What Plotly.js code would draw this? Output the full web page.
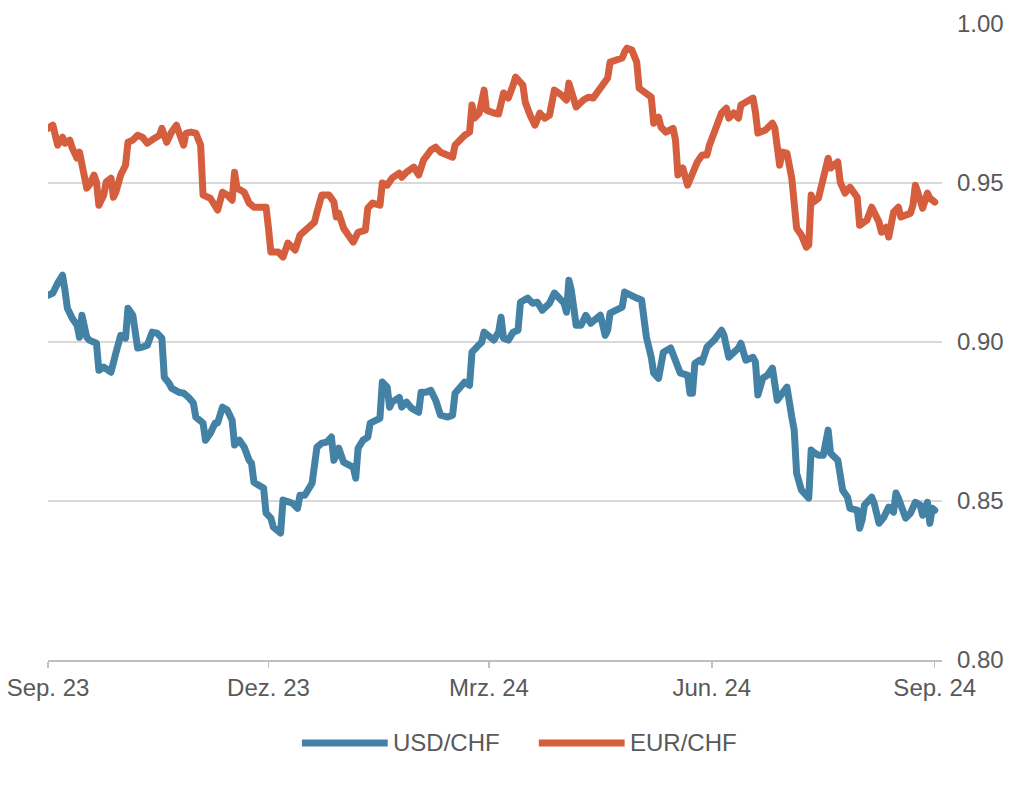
<!DOCTYPE html>
<html>
<head>
<meta charset="utf-8">
<script src="https://cdn.plot.ly/plotly-3.0.1.min.js"></script>
<style>
  html, body { margin: 0; padding: 0; background: #ffffff; }
  #chart { width: 1024px; height: 794px; }
  .js-line { stroke-linejoin: round !important; stroke-linecap: round !important; }
</style>
</head>
<body>
<div id="chart"></div>
<script>
// ---- Data ----
const seriesNames = ["USD/CHF", "EUR/CHF"];
const seriesColors = ["#4381A5", "#D45E3E"];

const usdDates = ["2023-09-01","2023-09-03","2023-09-05","2023-09-07","2023-09-08","2023-09-09","2023-09-11","2023-09-13","2023-09-14","2023-09-15","2023-09-17","2023-09-18","2023-09-21","2023-09-22","2023-09-24","2023-09-27","2023-09-29","2023-09-30","2023-10-01","2023-10-03","2023-10-04","2023-10-06","2023-10-08","2023-10-10","2023-10-12","2023-10-14","2023-10-16","2023-10-18","2023-10-19","2023-10-21","2023-10-22","2023-10-25","2023-10-27","2023-10-29","2023-10-31","2023-11-01","2023-11-03","2023-11-04","2023-11-05","2023-11-07","2023-11-09","2023-11-10","2023-11-12","2023-11-14","2023-11-16","2023-11-17","2023-11-19","2023-11-21","2023-11-23","2023-11-24","2023-11-25","2023-11-27","2023-11-29","2023-11-30","2023-12-02","2023-12-03","2023-12-05","2023-12-06","2023-12-07","2023-12-09","2023-12-11","2023-12-13","2023-12-14","2023-12-16","2023-12-18","2023-12-19","2023-12-21","2023-12-23","2023-12-25","2023-12-27","2023-12-28","2023-12-30","2024-01-01","2024-01-03","2024-01-05","2024-01-06","2024-01-07","2024-01-09","2024-01-11","2024-01-12","2024-01-13","2024-01-16","2024-01-17","2024-01-19","2024-01-20","2024-01-21","2024-01-24","2024-01-25","2024-01-27","2024-01-29","2024-02-01","2024-02-02","2024-02-04","2024-02-06","2024-02-08","2024-02-10","2024-02-13","2024-02-15","2024-02-16","2024-02-18","2024-02-20","2024-02-22","2024-02-23","2024-02-25","2024-02-27","2024-02-28","2024-03-01","2024-03-03","2024-03-05","2024-03-06","2024-03-07","2024-03-09","2024-03-11","2024-03-13","2024-03-14","2024-03-17","2024-03-19","2024-03-21","2024-03-23","2024-03-24","2024-03-26","2024-03-28","2024-03-30","2024-04-01","2024-04-02","2024-04-03","2024-04-04","2024-04-06","2024-04-08","2024-04-10","2024-04-12","2024-04-14","2024-04-16","2024-04-18","2024-04-19","2024-04-20","2024-04-23","2024-04-25","2024-04-26","2024-04-28","2024-05-01","2024-05-03","2024-05-04","2024-05-05","2024-05-07","2024-05-08","2024-05-10","2024-05-12","2024-05-15","2024-05-16","2024-05-17","2024-05-19","2024-05-22","2024-05-23","2024-05-24","2024-05-25","2024-05-27","2024-05-28","2024-05-30","2024-06-02","2024-06-05","2024-06-06","2024-06-08","2024-06-10","2024-06-12","2024-06-13","2024-06-15","2024-06-18","2024-06-19","2024-06-20","2024-06-22","2024-06-24","2024-06-26","2024-06-28","2024-06-30","2024-07-02","2024-07-04","2024-07-05","2024-07-06","2024-07-08","2024-07-11","2024-07-12","2024-07-13","2024-07-15","2024-07-17","2024-07-19","2024-07-20","2024-07-23","2024-07-25","2024-07-27","2024-07-28","2024-07-31","2024-08-01","2024-08-02","2024-08-03","2024-08-06","2024-08-07","2024-08-09","2024-08-11","2024-08-13","2024-08-15","2024-08-16","2024-08-17","2024-08-19","2024-08-20","2024-08-22","2024-08-24","2024-08-26","2024-08-27","2024-08-29","2024-08-30","2024-08-31","2024-09-01"];
const usdValues = [0.9147,0.9154,0.9185,0.9210,0.9163,0.9106,0.9075,0.9053,0.9015,0.9084,0.9015,0.9006,0.8996,0.8911,0.8921,0.8905,0.8965,0.9006,0.9021,0.9012,0.9106,0.9084,0.8981,0.8984,0.8990,0.9031,0.9028,0.9012,0.8889,0.8870,0.8855,0.8842,0.8839,0.8826,0.8808,0.8764,0.8754,0.8745,0.8691,0.8713,0.8745,0.8745,0.8795,0.8786,0.8754,0.8676,0.8691,0.8669,0.8628,0.8619,0.8559,0.8550,0.8540,0.8462,0.8446,0.8418,0.8402,0.8399,0.8503,0.8496,0.8493,0.8477,0.8518,0.8518,0.8543,0.8556,0.8669,0.8682,0.8685,0.8701,0.8628,0.8666,0.8622,0.8613,0.8606,0.8572,0.8666,0.8691,0.8701,0.8745,0.8748,0.8760,0.8874,0.8858,0.8795,0.8811,0.8826,0.8795,0.8811,0.8792,0.8779,0.8842,0.8842,0.8848,0.8817,0.8770,0.8764,0.8770,0.8839,0.8855,0.8874,0.8864,0.8968,0.8984,0.8999,0.9031,0.9021,0.9006,0.9031,0.9078,0.9012,0.9006,0.9031,0.9037,0.9125,0.9138,0.9122,0.9125,0.9100,0.9110,0.9122,0.9154,0.9138,0.9122,0.9094,0.9194,0.9163,0.9053,0.9053,0.9084,0.9059,0.9075,0.9084,0.9021,0.9037,0.9091,0.9100,0.9110,0.9157,0.9147,0.9138,0.9132,0.9043,0.9015,0.8952,0.8902,0.8886,0.8968,0.8981,0.8958,0.8943,0.8902,0.8896,0.8839,0.8839,0.8933,0.8943,0.8937,0.8984,0.9006,0.9037,0.9021,0.8952,0.8965,0.8981,0.8996,0.8943,0.8952,0.8937,0.8833,0.8886,0.8896,0.8918,0.8817,0.8842,0.8858,0.8764,0.8723,0.8587,0.8534,0.8509,0.8660,0.8653,0.8644,0.8644,0.8723,0.8650,0.8628,0.8534,0.8512,0.8477,0.8471,0.8414,0.8440,0.8487,0.8512,0.8493,0.8430,0.8449,0.8481,0.8465,0.8525,0.8509,0.8465,0.8446,0.8462,0.8496,0.8487,0.8455,0.8496,0.8430,0.8477,0.8471];

const eurDates = ["2023-09-01","2023-09-03","2023-09-05","2023-09-07","2023-09-08","2023-09-10","2023-09-11","2023-09-13","2023-09-14","2023-09-15","2023-09-17","2023-09-18","2023-09-20","2023-09-21","2023-09-22","2023-09-24","2023-09-25","2023-09-27","2023-09-28","2023-09-29","2023-10-01","2023-10-03","2023-10-04","2023-10-06","2023-10-08","2023-10-10","2023-10-12","2023-10-15","2023-10-17","2023-10-18","2023-10-20","2023-10-22","2023-10-24","2023-10-25","2023-10-27","2023-10-28","2023-10-30","2023-11-01","2023-11-03","2023-11-04","2023-11-07","2023-11-10","2023-11-12","2023-11-14","2023-11-16","2023-11-17","2023-11-18","2023-11-21","2023-11-23","2023-11-25","2023-11-30","2023-12-01","2023-12-02","2023-12-05","2023-12-07","2023-12-09","2023-12-10","2023-12-12","2023-12-14","2023-12-16","2023-12-18","2023-12-20","2023-12-21","2023-12-23","2023-12-26","2023-12-28","2023-12-29","2023-12-30","2024-01-01","2024-01-04","2024-01-05","2024-01-07","2024-01-10","2024-01-11","2024-01-13","2024-01-16","2024-01-17","2024-01-19","2024-01-21","2024-01-24","2024-01-25","2024-01-27","2024-01-30","2024-02-01","2024-02-03","2024-02-06","2024-02-08","2024-02-10","2024-02-13","2024-02-15","2024-02-16","2024-02-17","2024-02-20","2024-02-22","2024-02-23","2024-02-24","2024-02-26","2024-02-28","2024-02-29","2024-03-03","2024-03-05","2024-03-07","2024-03-09","2024-03-11","2024-03-12","2024-03-15","2024-03-16","2024-03-18","2024-03-20","2024-03-22","2024-03-24","2024-03-26","2024-03-28","2024-03-31","2024-04-02","2024-04-03","2024-04-05","2024-04-06","2024-04-09","2024-04-11","2024-04-13","2024-04-16","2024-04-19","2024-04-20","2024-04-23","2024-04-25","2024-04-26","2024-04-27","2024-04-29","2024-05-01","2024-05-02","2024-05-04","2024-05-07","2024-05-08","2024-05-10","2024-05-11","2024-05-13","2024-05-16","2024-05-17","2024-05-18","2024-05-20","2024-05-22","2024-05-24","2024-05-26","2024-05-28","2024-05-30","2024-05-31","2024-06-03","2024-06-05","2024-06-07","2024-06-08","2024-06-10","2024-06-12","2024-06-13","2024-06-15","2024-06-18","2024-06-19","2024-06-20","2024-06-23","2024-06-26","2024-06-27","2024-06-28","2024-06-29","2024-06-30","2024-07-02","2024-07-04","2024-07-05","2024-07-06","2024-07-08","2024-07-10","2024-07-11","2024-07-12","2024-07-13","2024-07-15","2024-07-17","2024-07-19","2024-07-20","2024-07-23","2024-07-24","2024-07-26","2024-07-28","2024-07-31","2024-08-01","2024-08-04","2024-08-06","2024-08-08","2024-08-09","2024-08-10","2024-08-12","2024-08-13","2024-08-15","2024-08-17","2024-08-18","2024-08-20","2024-08-22","2024-08-23","2024-08-24","2024-08-25","2024-08-27","2024-08-29","2024-08-30","2024-09-01"];
const eurValues = [0.9672,0.9682,0.9619,0.9644,0.9625,0.9635,0.9610,0.9578,0.9597,0.9566,0.9484,0.9493,0.9525,0.9503,0.9430,0.9462,0.9503,0.9515,0.9455,0.9471,0.9525,0.9556,0.9628,0.9635,0.9650,0.9644,0.9625,0.9641,0.9650,0.9672,0.9628,0.9660,0.9682,0.9660,0.9619,0.9657,0.9660,0.9657,0.9619,0.9462,0.9452,0.9415,0.9471,0.9462,0.9446,0.9534,0.9484,0.9471,0.9437,0.9424,0.9424,0.9358,0.9283,0.9283,0.9267,0.9311,0.9305,0.9289,0.9336,0.9352,0.9361,0.9377,0.9408,0.9462,0.9462,0.9440,0.9393,0.9405,0.9358,0.9327,0.9314,0.9345,0.9352,0.9421,0.9437,0.9430,0.9500,0.9493,0.9515,0.9531,0.9518,0.9534,0.9550,0.9525,0.9572,0.9603,0.9613,0.9597,0.9588,0.9581,0.9619,0.9628,0.9650,0.9660,0.9745,0.9704,0.9720,0.9792,0.9729,0.9720,0.9717,0.9783,0.9767,0.9808,0.9833,0.9808,0.9754,0.9713,0.9682,0.9720,0.9704,0.9713,0.9792,0.9776,0.9761,0.9814,0.9754,0.9739,0.9761,0.9770,0.9767,0.9801,0.9830,0.9880,0.9886,0.9893,0.9912,0.9924,0.9918,0.9880,0.9798,0.9786,0.9770,0.9688,0.9707,0.9676,0.9660,0.9672,0.9635,0.9525,0.9547,0.9493,0.9534,0.9566,0.9588,0.9588,0.9619,0.9682,0.9720,0.9735,0.9704,0.9720,0.9704,0.9745,0.9754,0.9767,0.9723,0.9657,0.9666,0.9688,0.9672,0.9588,0.9556,0.9597,0.9594,0.9515,0.9452,0.9358,0.9336,0.9298,0.9305,0.9462,0.9440,0.9452,0.9515,0.9578,0.9547,0.9566,0.9503,0.9468,0.9487,0.9455,0.9367,0.9383,0.9424,0.9389,0.9377,0.9345,0.9361,0.9330,0.9408,0.9424,0.9393,0.9399,0.9405,0.9430,0.9493,0.9471,0.9421,0.9468,0.9452,0.9440];

const xTickDates = ["2023-09-01","2023-12-01","2024-03-01","2024-06-01","2024-09-01"];
const xTickLabels = ["Sep. 23","Dez. 23","Mrz. 24","Jun. 24","Sep. 24"];
const yTickValues = [0.80, 0.85, 0.90, 0.95, 1.00];
const yTickLabels = ["0.80","0.85","0.90","0.95","1.00"];

// ---- Chart ----
const textColor = "#595959";
const fontFamily = "'Liberation Sans', Arial, sans-serif";
const fontSize = 24;
const lineWidth = 7;

const traces = [
  { x: usdDates, y: usdValues, name: seriesNames[0], type: "scatter", mode: "lines",
    line: { color: seriesColors[0], width: lineWidth }, showlegend: false, hoverinfo: "skip" },
  { x: eurDates, y: eurValues, name: seriesNames[1], type: "scatter", mode: "lines",
    line: { color: seriesColors[1], width: lineWidth }, showlegend: false, hoverinfo: "skip" }
];

// Custom legend (long line swatches like the reference)
const legendY = -0.1305;
const legendItems = [
  { x0: 0.284, x1: 0.380, tx: 0.384 },
  { x0: 0.549, x1: 0.645, tx: 0.649 }
];
const shapes = legendItems.map((it, i) => ({
  type: "line", xref: "paper", yref: "paper",
  x0: it.x0, x1: it.x1, y0: legendY, y1: legendY,
  line: { color: seriesColors[i], width: lineWidth }
}));
const annotations = legendItems.map((it, i) => ({
  xref: "paper", yref: "paper", x: it.tx, y: legendY,
  xanchor: "left", yanchor: "middle", showarrow: false,
  text: seriesNames[i], font: { family: fontFamily, size: fontSize, color: textColor }
}));

const layout = {
  width: 1024, height: 794,
  margin: { l: 48, r: 82, t: 24, b: 134 },
  paper_bgcolor: "#ffffff", plot_bgcolor: "#ffffff",
  font: { family: fontFamily, size: fontSize, color: textColor },
  showlegend: false,
  xaxis: {
    type: "date",
    range: ["2023-09-01", "2024-09-04"],
    tickvals: xTickDates, ticktext: xTickLabels,
    showgrid: false, zeroline: false,
    showline: true, linecolor: "#bfbfbf", linewidth: 1.5,
    ticks: "outside", ticklen: 6, tickcolor: "#bfbfbf", tickwidth: 1.5,
    tickfont: { family: fontFamily, size: fontSize, color: textColor },
    fixedrange: true
  },
  yaxis: {
    side: "right",
    range: [0.80, 1.00],
    tickvals: yTickValues, ticktext: yTickLabels,
    showgrid: true, gridcolor: "#d9d9d9", gridwidth: 1.5,
    zeroline: false, showline: false, ticks: "",
    ticklabelstandoff: 14,
    tickfont: { family: fontFamily, size: fontSize, color: textColor },
    fixedrange: true
  },
  shapes: shapes,
  annotations: annotations
};

Plotly.newPlot("chart", traces, layout, { staticPlot: true, displayModeBar: false });
</script>
</body>
</html>
